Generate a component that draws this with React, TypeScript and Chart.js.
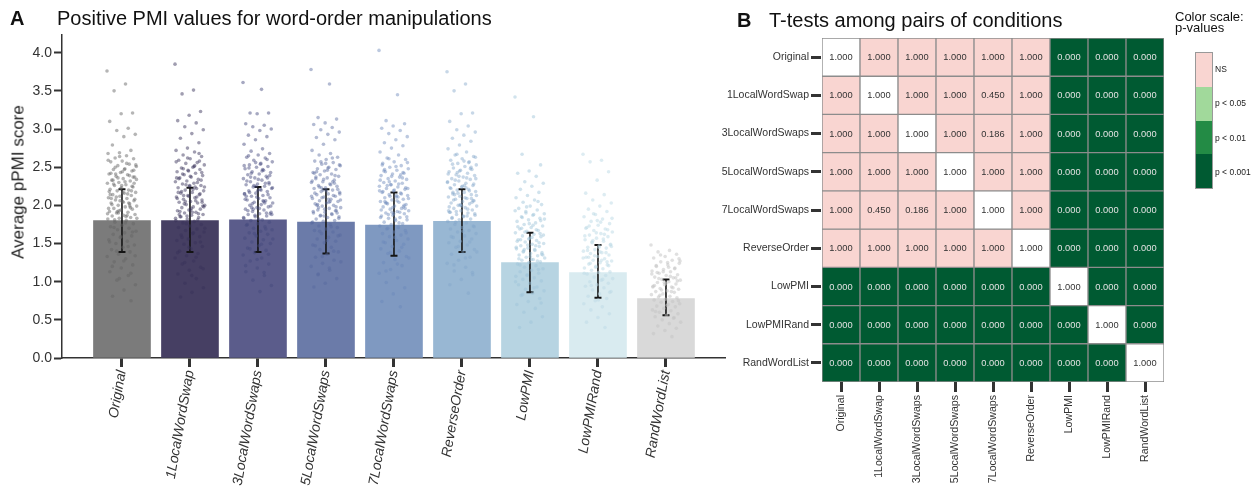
import React, { useEffect, useRef } from "react";
import { Chart, registerables } from "chart.js";
Chart.register(...registerables);

const FONT = '"Liberation Sans", Arial, Helvetica, sans-serif';
Chart.defaults.font.family = FONT;

// ---------- Panel A data ----------
const conditions = [
  "Original", "1LocalWordSwap", "3LocalWordSwaps", "5LocalWordSwaps", "7LocalWordSwaps",
  "ReverseOrder", "LowPMI", "LowPMIRand", "RandWordList",
];
const meanPPMI = [1.80, 1.80, 1.81, 1.78, 1.74, 1.79, 1.25, 1.12, 0.78];
const errLow = [1.39, 1.39, 1.39, 1.37, 1.34, 1.39, 0.86, 0.79, 0.56];
const errHigh = [2.21, 2.23, 2.24, 2.21, 2.17, 2.21, 1.64, 1.48, 1.03];
const yTicks = [0, 0.5, 1, 1.5, 2, 2.5, 3, 3.5, 4];

const ptsOriginal = [3.76, 3.59, 3.50, 3.21, 3.20, 3.10, 3.01, 2.98, 2.93, 2.90, 2.79, 2.72, 2.69, 2.68, 2.65, 2.62, 2.61, 2.58, 2.57, 2.54, 2.52, 2.51, 2.48, 2.47, 2.45, 2.43, 2.41, 2.40, 2.38, 2.37, 2.35, 2.33, 2.32, 2.30, 2.29, 2.27, 2.26, 2.24, 2.23, 2.21, 2.20, 2.19, 2.17, 2.16, 2.14, 2.13, 2.12, 2.10, 2.09, 2.07, 2.06, 2.05, 2.03, 2.02, 2.00, 1.99, 1.98, 1.96, 1.95, 1.94, 1.92, 1.91, 1.90, 1.88, 1.87, 1.86, 1.84, 1.83, 1.82, 1.80, 1.78, 1.76, 1.74, 1.72, 1.70, 1.68, 1.66, 1.64, 1.62, 1.60, 1.58, 1.55, 1.53, 1.50, 1.48, 1.45, 1.42, 1.39, 1.36, 1.33, 1.30, 1.26, 1.22, 1.18, 1.13, 1.08, 1.02, 0.96, 0.89, 0.81, 0.75,
  2.64, 2.59, 2.55, 2.50, 2.46, 2.44, 2.42, 2.39, 2.36, 2.34, 2.31, 2.28, 2.25, 2.22, 2.18, 2.15, 2.11, 2.08, 2.04, 2.01, 1.97, 1.93, 1.89, 1.85, 1.81, 2.37, 2.26, 2.14, 2.03, 1.92, 2.53, 2.47, 2.33, 2.19, 2.06, 1.96, 1.87, 2.41, 2.29, 2.17, 2.09, 1.99, 1.90, 1.83, 1.77, 1.71, 1.65, 1.59, 1.52, 1.46, 1.40, 1.34, 1.27, 1.20, 1.11, 1.04];
const pts1Swap = [3.85, 3.51, 3.46, 3.23, 3.18, 3.11, 3.08, 3.03, 2.99, 2.94, 2.88, 2.82, 2.75, 2.72, 2.70, 2.66, 2.64, 2.61, 2.59, 2.56, 2.55, 2.53, 2.50, 2.49, 2.47, 2.45, 2.44, 2.42, 2.40, 2.39, 2.37, 2.36, 2.34, 2.32, 2.31, 2.29, 2.28, 2.26, 2.25, 2.23, 2.22, 2.20, 2.19, 2.17, 2.16, 2.14, 2.13, 2.11, 2.10, 2.08, 2.07, 2.05, 2.04, 2.03, 2.01, 2.00, 1.98, 1.97, 1.95, 1.94, 1.93, 1.91, 1.90, 1.88, 1.87, 1.85, 1.84, 1.82, 1.80, 1.79, 1.77, 1.75, 1.73, 1.71, 1.69, 1.67, 1.65, 1.63, 1.61, 1.59, 1.56, 1.54, 1.51, 1.49, 1.46, 1.43, 1.40, 1.37, 1.34, 1.31, 1.27, 1.23, 1.19, 1.15, 1.10, 1.04, 0.98, 0.92, 0.86, 0.80,
  2.68, 2.62, 2.57, 2.52, 2.48, 2.43, 2.38, 2.35, 2.30, 2.27, 2.24, 2.21, 2.18, 2.15, 2.12, 2.09, 2.06, 2.02, 1.99, 1.96, 1.92, 1.89, 1.86, 1.83, 2.51, 2.41, 2.33, 2.26, 2.17, 2.11, 2.05, 1.98, 1.91, 1.85, 2.58, 2.46, 2.36, 2.24, 2.13, 2.04, 1.94, 1.88, 1.81, 1.76, 1.70, 1.64, 1.58, 1.52, 1.45, 1.38, 1.32, 1.25, 1.17, 1.08];
const pts3Swaps = [3.61, 3.52, 3.21, 3.21, 3.20, 3.07, 3.05, 3.03, 3.00, 2.98, 2.92, 2.90, 2.86, 2.80, 2.74, 2.71, 2.68, 2.66, 2.63, 2.62, 2.59, 2.57, 2.55, 2.53, 2.51, 2.50, 2.48, 2.46, 2.44, 2.43, 2.41, 2.40, 2.38, 2.36, 2.35, 2.33, 2.31, 2.30, 2.28, 2.27, 2.25, 2.24, 2.22, 2.21, 2.19, 2.18, 2.16, 2.15, 2.13, 2.12, 2.10, 2.09, 2.07, 2.06, 2.04, 2.03, 2.01, 2.00, 1.98, 1.97, 1.95, 1.94, 1.92, 1.91, 1.89, 1.88, 1.86, 1.85, 1.83, 1.81, 1.80, 1.78, 1.76, 1.74, 1.72, 1.70, 1.68, 1.66, 1.64, 1.62, 1.60, 1.57, 1.55, 1.52, 1.50, 1.47, 1.44, 1.41, 1.38, 1.35, 1.31, 1.27, 1.23, 1.18, 1.13, 1.08, 1.02, 0.95, 0.87,
  2.65, 2.60, 2.56, 2.52, 2.47, 2.42, 2.39, 2.34, 2.32, 2.29, 2.26, 2.23, 2.20, 2.17, 2.14, 2.11, 2.08, 2.05, 2.02, 1.99, 1.96, 1.93, 1.90, 1.87, 1.84, 2.45, 2.37, 2.28, 2.19, 2.12, 2.03, 1.95, 1.88, 2.54, 2.49, 2.36, 2.25, 2.15, 2.06, 1.97, 1.89, 1.82, 1.75, 1.69, 1.63, 1.56, 1.49, 1.43, 1.36, 1.29, 1.21, 1.12];
const pts5Swaps = [3.78, 3.59, 3.15, 3.13, 3.08, 3.06, 3.02, 2.99, 2.96, 2.93, 2.89, 2.86, 2.80, 2.72, 2.68, 2.66, 2.63, 2.60, 2.58, 2.56, 2.54, 2.52, 2.50, 2.48, 2.47, 2.45, 2.43, 2.41, 2.40, 2.38, 2.36, 2.35, 2.33, 2.31, 2.30, 2.28, 2.26, 2.25, 2.23, 2.22, 2.20, 2.18, 2.17, 2.15, 2.14, 2.12, 2.11, 2.09, 2.08, 2.06, 2.05, 2.03, 2.02, 2.00, 1.99, 1.97, 1.96, 1.94, 1.93, 1.91, 1.90, 1.88, 1.87, 1.85, 1.84, 1.82, 1.80, 1.79, 1.77, 1.75, 1.73, 1.71, 1.69, 1.67, 1.65, 1.63, 1.61, 1.58, 1.56, 1.53, 1.51, 1.48, 1.45, 1.42, 1.39, 1.36, 1.32, 1.28, 1.24, 1.20, 1.15, 1.10, 1.04, 0.98, 0.93,
  2.62, 2.57, 2.53, 2.49, 2.44, 2.39, 2.34, 2.32, 2.27, 2.24, 2.21, 2.19, 2.16, 2.13, 2.10, 2.07, 2.04, 2.01, 1.98, 1.95, 1.92, 1.89, 1.86, 1.83, 2.46, 2.37, 2.29, 2.20, 2.12, 2.05, 1.97, 1.90, 2.55, 2.42, 2.31, 2.23, 2.15, 2.08, 2.00, 1.93, 1.86, 1.78, 1.72, 1.66, 1.60, 1.54, 1.47, 1.40, 1.33, 1.26, 1.18, 1.09];
const pts7Swaps = [4.03, 3.45, 3.11, 3.07, 3.04, 3.01, 2.98, 2.94, 2.90, 2.86, 2.82, 2.78, 2.75, 2.70, 2.66, 2.62, 2.60, 2.57, 2.55, 2.52, 2.50, 2.48, 2.46, 2.44, 2.42, 2.41, 2.39, 2.37, 2.35, 2.34, 2.32, 2.30, 2.29, 2.27, 2.25, 2.24, 2.22, 2.21, 2.19, 2.17, 2.16, 2.14, 2.13, 2.11, 2.10, 2.08, 2.07, 2.05, 2.04, 2.02, 2.01, 1.99, 1.98, 1.96, 1.95, 1.93, 1.92, 1.90, 1.89, 1.87, 1.86, 1.84, 1.83, 1.81, 1.80, 1.78, 1.76, 1.75, 1.73, 1.71, 1.69, 1.67, 1.65, 1.63, 1.61, 1.59, 1.56, 1.54, 1.51, 1.49, 1.46, 1.43, 1.40, 1.37, 1.33, 1.29, 1.25, 1.21, 1.16, 1.11, 1.05, 0.99, 0.92, 0.84, 0.74, 0.67,
  2.61, 2.56, 2.51, 2.47, 2.43, 2.38, 2.33, 2.28, 2.26, 2.23, 2.20, 2.18, 2.15, 2.12, 2.09, 2.06, 2.03, 2.00, 1.97, 1.94, 1.91, 1.88, 1.85, 1.82, 2.45, 2.36, 2.27, 2.19, 2.11, 2.03, 1.96, 1.89, 2.53, 2.40, 2.31, 2.22, 2.13, 2.05, 1.98, 1.91, 1.84, 1.77, 1.70, 1.64, 1.58, 1.52, 1.45, 1.38, 1.31, 1.23, 1.14];
const ptsReverse = [3.75, 3.59, 3.50, 3.21, 3.20, 3.10, 3.04, 2.99, 2.96, 2.92, 2.88, 2.84, 2.79, 2.74, 2.70, 2.66, 2.64, 2.61, 2.59, 2.57, 2.55, 2.53, 2.51, 2.49, 2.47, 2.46, 2.44, 2.42, 2.40, 2.39, 2.37, 2.35, 2.34, 2.32, 2.30, 2.29, 2.27, 2.26, 2.24, 2.23, 2.21, 2.20, 2.18, 2.17, 2.15, 2.14, 2.12, 2.11, 2.09, 2.08, 2.06, 2.05, 2.03, 2.02, 2.00, 1.99, 1.97, 1.96, 1.94, 1.93, 1.91, 1.90, 1.88, 1.87, 1.85, 1.84, 1.82, 1.81, 1.79, 1.77, 1.75, 1.73, 1.71, 1.69, 1.67, 1.65, 1.63, 1.60, 1.58, 1.56, 1.53, 1.51, 1.48, 1.45, 1.42, 1.39, 1.36, 1.32, 1.28, 1.24, 1.19, 1.14, 1.09, 1.03, 0.96, 0.85,
  2.67, 2.63, 2.58, 2.54, 2.50, 2.45, 2.41, 2.36, 2.33, 2.28, 2.25, 2.22, 2.19, 2.16, 2.13, 2.10, 2.07, 2.04, 2.01, 1.98, 1.95, 1.92, 1.89, 1.86, 1.83, 2.48, 2.38, 2.31, 2.23, 2.14, 2.06, 1.99, 1.91, 2.56, 2.43, 2.35, 2.26, 2.17, 2.09, 2.00, 1.93, 1.86, 1.78, 1.72, 1.66, 1.59, 1.52, 1.46, 1.39, 1.31, 1.22, 1.12];
const ptsLowPMI = [3.42, 3.16, 2.67, 2.53, 2.45, 2.42, 2.38, 2.31, 2.29, 2.25, 2.21, 2.17, 2.13, 2.10, 2.07, 2.04, 2.01, 1.99, 1.96, 1.94, 1.92, 1.89, 1.87, 1.85, 1.83, 1.81, 1.79, 1.77, 1.75, 1.73, 1.71, 1.69, 1.67, 1.66, 1.64, 1.62, 1.60, 1.59, 1.57, 1.55, 1.54, 1.52, 1.50, 1.49, 1.47, 1.46, 1.44, 1.43, 1.41, 1.40, 1.38, 1.37, 1.35, 1.34, 1.32, 1.31, 1.29, 1.28, 1.26, 1.25, 1.23, 1.21, 1.19, 1.17, 1.15, 1.13, 1.11, 1.09, 1.07, 1.05, 1.03, 1.01, 0.98, 0.96, 0.93, 0.90, 0.88, 0.85, 0.82, 0.78, 0.74, 0.70, 0.65, 0.60, 0.54, 0.47, 0.40,
  2.05, 1.98, 1.93, 1.88, 1.84, 1.80, 1.76, 1.72, 1.68, 1.65, 1.61, 1.58, 1.55, 1.51, 1.48, 1.45, 1.42, 1.39, 1.36, 1.33, 1.30, 1.27, 1.90, 1.82, 1.74, 1.70, 1.63, 1.56, 1.53, 1.47, 1.42, 1.35, 1.29, 1.22, 1.16, 1.08, 1.00, 0.92, 0.83, 0.72];
const ptsLowPMIRand = [2.67, 2.59, 2.57, 2.44, 2.33, 2.16, 2.14, 2.07, 2.03, 1.99, 1.95, 1.92, 1.88, 1.85, 1.82, 1.79, 1.76, 1.74, 1.71, 1.69, 1.67, 1.65, 1.63, 1.61, 1.59, 1.57, 1.55, 1.53, 1.51, 1.49, 1.47, 1.45, 1.44, 1.42, 1.40, 1.38, 1.37, 1.35, 1.33, 1.32, 1.30, 1.28, 1.27, 1.25, 1.23, 1.22, 1.20, 1.18, 1.17, 1.15, 1.13, 1.12, 1.10, 1.08, 1.06, 1.04, 1.02, 1.00, 0.98, 0.96, 0.94, 0.92, 0.89, 0.87, 0.84, 0.81, 0.78, 0.75, 0.71, 0.67, 0.63, 0.58, 0.53, 0.47, 0.40,
  1.89, 1.83, 1.78, 1.73, 1.68, 1.64, 1.60, 1.56, 1.52, 1.48, 1.45, 1.41, 1.38, 1.34, 1.31, 1.28, 1.24, 1.21, 1.80, 1.70, 1.62, 1.54, 1.46, 1.39, 1.32, 1.26, 1.19, 1.11, 1.03, 0.95, 0.86, 0.76];
const ptsRandList = [1.48, 1.41, 1.39, 1.36, 1.33, 1.31, 1.28, 1.26, 1.24, 1.22, 1.20, 1.18, 1.16, 1.14, 1.13, 1.11, 1.09, 1.08, 1.06, 1.05, 1.03, 1.02, 1.00, 0.99, 0.97, 0.96, 0.94, 0.93, 0.91, 0.90, 0.88, 0.87, 0.86, 0.84, 0.83, 0.81, 0.80, 0.79, 0.77, 0.76, 0.74, 0.73, 0.71, 0.70, 0.68, 0.67, 0.65, 0.63, 0.62, 0.60, 0.58, 0.56, 0.54, 0.52, 0.50, 0.47, 0.45, 0.42, 0.39, 0.36, 0.32, 0.28,
  1.35, 1.30, 1.25, 1.21, 1.17, 1.13, 1.10, 1.07, 1.04, 1.01, 0.98, 0.95, 0.92, 0.89, 1.27, 1.19, 1.12, 1.05, 0.99, 0.93, 0.87, 0.82, 0.75, 0.69, 0.61, 0.53];
const pointSets = [ptsOriginal, pts1Swap, pts3Swaps, pts5Swaps, pts7Swaps, ptsReverse, ptsLowPMI, ptsLowPMIRand, ptsRandList];

const barColors = ["#7b7b7b", "#463f63", "#5b5c8b", "#6b7ba9", "#7f99c1", "#98b7d3", "#b7d4e2", "#d9ebf0", "#d9d9d9"];
const pointColors = [
  "rgba(100,100,100,0.48)", "rgba(56,50,90,0.48)", "rgba(70,73,126,0.48)", "rgba(86,104,158,0.45)",
  "rgba(106,136,186,0.45)", "rgba(130,166,202,0.45)", "rgba(158,196,218,0.48)", "rgba(190,219,230,0.52)",
  "rgba(196,196,196,0.52)",
];

// ---------- Panel B data (p-values, rows = conditions top to bottom) ----------
const pOriginal = [1, 1, 1, 1, 1, 1, 0, 0, 0];
const p1Swap = [1, 1, 1, 1, 0.45, 1, 0, 0, 0];
const p3Swaps = [1, 1, 1, 1, 0.186, 1, 0, 0, 0];
const p5Swaps = [1, 1, 1, 1, 1, 1, 0, 0, 0];
const p7Swaps = [1, 0.45, 0.186, 1, 1, 1, 0, 0, 0];
const pReverse = [1, 1, 1, 1, 1, 1, 0, 0, 0];
const pLowPMI = [0, 0, 0, 0, 0, 0, 1, 0, 0];
const pLowPMIRand = [0, 0, 0, 0, 0, 0, 0, 1, 0];
const pRandList = [0, 0, 0, 0, 0, 0, 0, 0, 1];
const pMatrix = [pOriginal, p1Swap, p3Swaps, p5Swaps, p7Swaps, pReverse, pLowPMI, pLowPMIRand, pRandList];

const legendLabels = ["NS", "p < 0.05", "p < 0.01", "p < 0.001"];
const legendColors = ["#f9d5d1", "#a1d99b", "#238b45", "#005a32"];

function cellColor(p: number, diag: boolean) {
  if (diag) return "#ffffff";
  if (p < 0.001) return legendColors[3];
  if (p < 0.01) return legendColors[2];
  if (p < 0.05) return legendColors[1];
  return legendColors[0];
}

const jitter = (k: number) => (((k * 0.6180339887) % 1) - 0.5) * 0.44;

const errorBarPlugin = {
  id: "errorBars",
  afterDatasetDraw(chart: any, args: any) {
    if (args.index !== 0) return;
    const { ctx, scales } = chart;
    const x = scales.x, y = scales.y;
    ctx.save();
    ctx.strokeStyle = "#141414";
    conditions.forEach((_, i) => {
      const px = x.getPixelForValue(i);
      const yl = y.getPixelForValue(errLow[i]);
      const yh = y.getPixelForValue(errHigh[i]);
      ctx.lineWidth = 1.6;
      ctx.beginPath();
      ctx.moveTo(px, yl);
      ctx.lineTo(px, yh);
      ctx.stroke();
      ctx.lineWidth = 2;
      ctx.beginPath();
      ctx.moveTo(px - 3.5, yl);
      ctx.lineTo(px + 3.5, yl);
      ctx.moveTo(px - 3.5, yh);
      ctx.lineTo(px + 3.5, yh);
      ctx.stroke();
    });
    ctx.restore();
  },
};

const cellTextPlugin = {
  id: "cellText",
  afterDatasetsDraw(chart: any) {
    const ctx = chart.ctx;
    ctx.save();
    ctx.font = `9.3px ${FONT}`;
    ctx.textAlign = "center";
    ctx.textBaseline = "middle";
    pMatrix.forEach((row, r) => {
      const meta = chart.getDatasetMeta(r);
      meta.data.forEach((el: any, c: number) => {
        const p = row[c];
        const { x, y, base } = el.getProps(["x", "y", "base"], true);
        ctx.fillStyle = p < 0.05 && r !== c ? "#e2e2e2" : "#333333";
        ctx.fillText(p.toFixed(3), x, (y + base) / 2 + 0.5);
      });
    });
    ctx.restore();
  },
};

function BarPanel() {
  const ref = useRef<HTMLCanvasElement>(null);
  useEffect(() => {
    const scatterSets = pointSets.map((vals, i) => ({
      type: "scatter" as const,
      data: vals.map((v, k) => ({ x: i + jitter(k), y: v })),
      pointRadius: 1.8,
      pointBorderWidth: 0,
      pointBackgroundColor: pointColors[i],
      order: 1,
    }));
    const chart = new Chart(ref.current!, {
      type: "bar",
      data: {
        datasets: [
          {
            type: "bar",
            data: meanPPMI.map((v, i) => ({ x: i, y: v })),
            backgroundColor: barColors,
            barThickness: 57,
            order: 2,
          } as any,
          ...scatterSets,
        ],
      },
      options: {
        animation: false,
        responsive: false,
        events: [],
        layout: { padding: { top: 35, right: 15, left: 0, bottom: 0 } },
        plugins: { legend: { display: false }, tooltip: { enabled: false } },
        scales: {
          x: {
            type: "linear",
            min: -0.882,
            max: 8.868,
            offset: false,
            afterBuildTicks: (s: any) => {
              s.ticks = conditions.map((_, i) => ({ value: i }));
            },
            afterFit: (s: any) => {
              s.height = 130;
            },
            ticks: {
              callback: (v: any) => conditions[Math.round(Number(v))],
              autoSkip: false,
              maxRotation: 80,
              minRotation: 80,
              color: "#333",
              padding: 2,
              font: { size: 14, style: "italic", family: FONT },
            },
            grid: { drawOnChartArea: false, offset: false, tickLength: 9, tickWidth: 3, tickColor: "#333" },
            border: { display: true, color: "#333", width: 1.5 },
          },
          y: {
            type: "linear",
            min: 0,
            max: 4.232,
            afterBuildTicks: (s: any) => {
              s.ticks = yTicks.map((v) => ({ value: v }));
            },
            afterFit: (s: any) => {
              s.width = 62;
            },
            ticks: {
              callback: (v: any) => Number(v).toFixed(1),
              color: "#333",
              padding: 2,
              font: { size: 14, family: FONT },
            },
            grid: { drawOnChartArea: false, tickLength: 8, tickWidth: 2, tickColor: "#333" },
            border: { display: true, color: "#333", width: 1.5 },
          },
        },
      },
      plugins: [errorBarPlugin],
    } as any);
    return () => chart.destroy();
  }, []);
  return <canvas ref={ref} width={740} height={488} style={{ position: "absolute", left: 0, top: 0 }} />;
}

function HeatPanel() {
  const ref = useRef<HTMLCanvasElement>(null);
  useEffect(() => {
    const rowSets = pMatrix.map((row, r) => ({
      type: "bar" as const,
      data: row.map(() => [r, r + 1]),
      backgroundColor: row.map((p, c) => cellColor(p, r === c)),
      borderColor: "#8c8c8c",
      borderWidth: 1,
      borderSkipped: false,
      grouped: false,
      barPercentage: 1,
      categoryPercentage: 1,
    }));
    const chart = new Chart(ref.current!, {
      type: "bar",
      data: { labels: conditions, datasets: rowSets as any },
      options: {
        animation: false,
        responsive: false,
        events: [],
        layout: { padding: { top: 38, right: 92, left: 0, bottom: 0 } },
        plugins: { legend: { display: false }, tooltip: { enabled: false } },
        scales: {
          x: {
            type: "category",
            offset: true,
            afterFit: (s: any) => {
              s.height = 106;
            },
            ticks: {
              autoSkip: false,
              maxRotation: 90,
              minRotation: 90,
              color: "#333",
              padding: 3,
              font: { size: 10.6, family: FONT },
            },
            grid: { drawOnChartArea: false, offset: false, tickLength: 10, tickWidth: 3, tickColor: "#333" },
            border: { display: false },
          },
          y: {
            type: "linear",
            reverse: true,
            min: 0,
            max: 9,
            afterBuildTicks: (s: any) => {
              s.ticks = conditions.map((_, r) => ({ value: r + 0.5 }));
            },
            afterFit: (s: any) => {
              s.width = 142;
            },
            ticks: {
              callback: (v: any) => conditions[Math.floor(Number(v))],
              color: "#333",
              padding: 2,
              font: { size: 10.5, family: FONT },
            },
            grid: { drawOnChartArea: false, tickLength: 11, tickWidth: 3, tickColor: "#333" },
            border: { display: true, width: 2, color: "rgba(0,0,0,0)" },
          },
        },
      },
      plugins: [cellTextPlugin],
    } as any);
    return () => chart.destroy();
  }, []);
  return <canvas ref={ref} width={576} height={488} style={{ position: "absolute", left: 680, top: 0 }} />;
}

export default function App() {
  const txt: React.CSSProperties = { position: "absolute", fontFamily: FONT, color: "#111", whiteSpace: "nowrap", lineHeight: 1 };
  return (
    <div style={{ position: "fixed", left: 0, top: 0, width: 1256, height: 488, background: "#fff", overflow: "hidden" }}>
      <BarPanel />
      <HeatPanel />
      <div style={{ ...txt, left: 10, top: 8, fontSize: 20, fontWeight: "bold" }}>A</div>
      <div style={{ ...txt, left: 57, top: 8, fontSize: 20 }}>Positive PMI values for word-order manipulations</div>
      <div
        style={{
          ...txt,
          left: 17.5,
          top: 181.5,
          fontSize: 17,
          color: "#222",
          transform: "translate(-50%, -50%) rotate(-90deg)",
        }}
      >
        Average pPMI score
      </div>
      <div style={{ ...txt, left: 737, top: 10, fontSize: 20, fontWeight: "bold" }}>B</div>
      <div style={{ ...txt, left: 769, top: 10, fontSize: 20 }}>T-tests among pairs of conditions</div>
      <div style={{ ...txt, left: 1175, top: 11, fontSize: 13, lineHeight: "11px" }}>
        Color scale:
        <br />
        p-values
      </div>
      <div style={{ position: "absolute", left: 1195, top: 52, width: 18, height: 137, border: "1px solid #999", boxSizing: "border-box" }}>
        {legendColors.map((c, i) => (
          <div key={i} style={{ height: "25%", background: c }} />
        ))}
      </div>
      {legendLabels.map((l, i) => (
        <div
          key={l}
          style={{ ...txt, left: 1215, top: 52 + 34.25 * i + 17.1, fontSize: 8.5, color: "#222", transform: "translateY(-50%)" }}
        >
          {l}
        </div>
      ))}
    </div>
  );
}
